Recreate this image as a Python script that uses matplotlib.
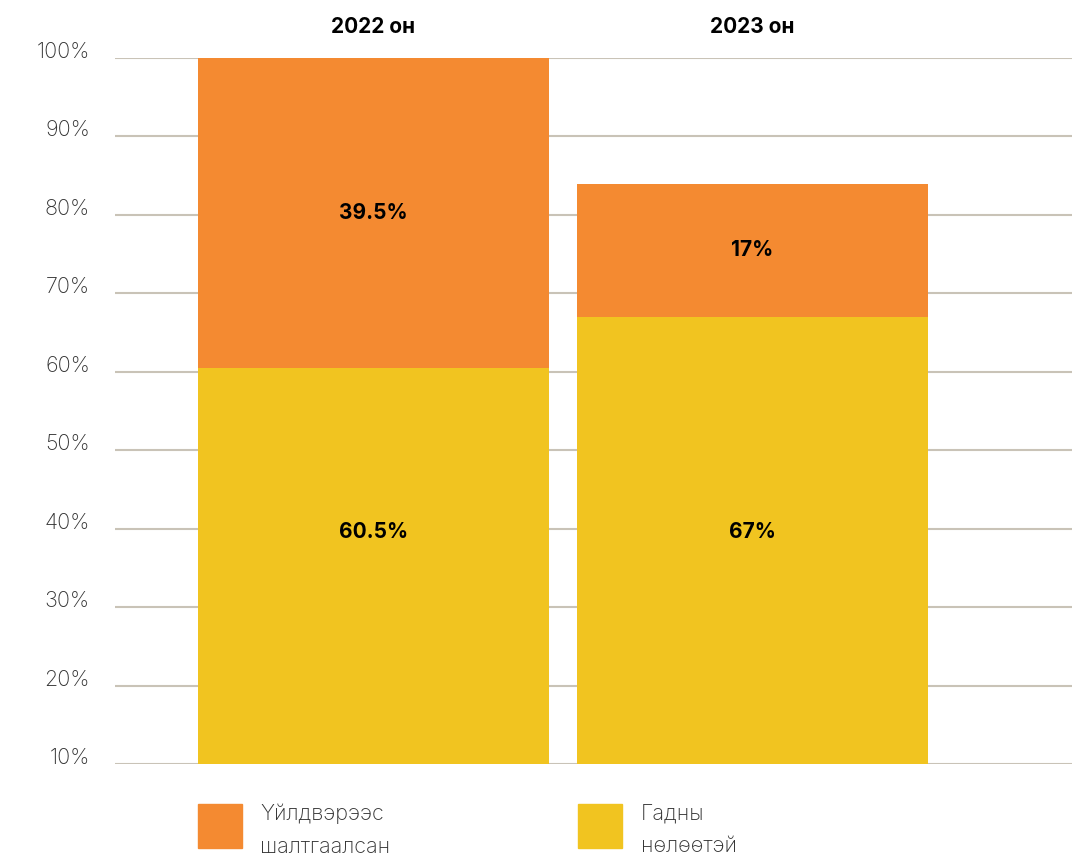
import matplotlib
matplotlib.use("Agg")
import matplotlib.pyplot as plt
from matplotlib.patches import Rectangle

years = ["2022 он", "2023 он"]
external = [60.5, 67]      # Гадны нөлөөтэй
internal = [39.5, 17]      # Үйлдвэрээс шалтгаалсан
ticks = [10, 20, 30, 40, 50, 60, 70, 80, 90, 100]
legend_labels = ["Үйлдвэрээс\nшалтгаалсан", "Гадны\nнөлөөтэй"]

ORANGE = "#F48A31"
YELLOW = "#F1C420"
GRID = "#C9C3B7"

plt.rcParams['font.family'] = ['Inter', 'DejaVu Sans']

W, H = 1072, 855
fig = plt.figure(figsize=(W / 100, H / 100), dpi=100)
ax = fig.add_axes([115 / W, 1 - 764 / H, (1072 - 115) / W, (764 - 58) / H])

x = [0, 1]
width = 0.926
ax.bar(x, external, width=width, color=YELLOW, zorder=3)
ax.bar(x, internal, width=width, bottom=external, color=ORANGE, zorder=3)

ax.set_xlim(-0.682, 1.843)
ax.set_ylim(10, 100)
ax.set_yticks(ticks)
ax.set_yticklabels([f"{t}%" for t in ticks], fontsize=15.5, color="#333333",
                   fontweight="light", va="baseline")
ax.tick_params(axis="y", length=0, pad=18)
ax.set_xticks([])
for s in ax.spines.values():
    s.set_visible(False)
ax.yaxis.grid(True, color=GRID, linewidth=1.5, zorder=0)
ax.set_axisbelow(True)

for i in range(len(years)):
    ax.text(x[i], 39.6, f"{external[i]:g}%", ha="center", va="center",
            fontsize=15, fontweight="bold", color="black", zorder=5)
    ax.text(x[i], external[i] + internal[i] / 2, f"{internal[i]:g}%",
            ha="center", va="center", fontsize=15, fontweight="bold",
            color="black", zorder=5)
    ax.text(x[i], 104.0, years[i], ha="center", va="center", fontsize=15,
            fontweight="bold", color="black", clip_on=False)

# legend
colors = [ORANGE, YELLOW]
sq_x = [198, 578]
tx_x = [260, 641]
for i in range(2):
    fig.patches.append(Rectangle((sq_x[i] / W, 1 - 848 / H), 44 / W, 44 / H,
                                 transform=fig.transFigure, color=colors[i]))
    fig.text(tx_x[i] / W, 1 - 830 / H, legend_labels[i], ha="left",
             va="center", fontsize=15.5, color="#333333", fontweight="light",
             linespacing=1.8)

fig.savefig("out.png", dpi=100)
